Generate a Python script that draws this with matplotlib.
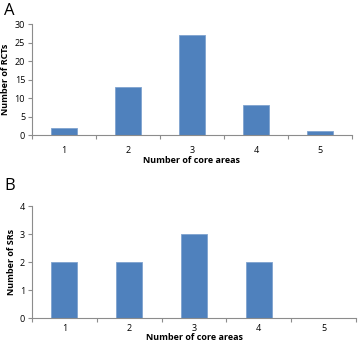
import matplotlib
matplotlib.use('Agg')
import matplotlib.pyplot as plt

plt.rcParams['font.family'] = ['Open Sans', 'DejaVu Sans']

core_areas = [1, 2, 3, 4, 5]
rct_counts = [2, 13, 27, 8, 1]
sr_counts = [2, 2, 3, 2, 0]

bar_color = '#4F81BD'
edge_color = '#7FA3CF'
axis_color = '#8C8C8C'

fig = plt.figure(figsize=(3.58, 3.46), dpi=100)
ax1 = fig.add_axes([0.0894, 0.6098, 0.8936, 0.3208])
ax2 = fig.add_axes([0.0894, 0.0809, 0.905, 0.3237])


def style(ax, counts, ymax, ystep, ylabel, pad, labelpad):
    ax.bar(core_areas, counts, width=0.4, color=bar_color, edgecolor=edge_color, linewidth=0.6)
    ax.set_xlim(0.5, 5.5)
    ax.set_ylim(0, ymax)
    ax.set_yticks(range(0, ymax + 1, ystep))
    ax.set_xticks(core_areas)
    ax.set_xticks([0.5 + i for i in range(6)], minor=True)
    ax.tick_params(axis='x', which='major', length=0, pad=pad, labelsize=6.5)
    ax.tick_params(axis='x', which='minor', length=3, color=axis_color, width=0.8)
    ax.tick_params(axis='y', length=3, color=axis_color, width=0.8, labelsize=6.5, pad=2)
    for s in ['top', 'right']:
        ax.spines[s].set_visible(False)
    for s in ['left', 'bottom']:
        ax.spines[s].set_color(axis_color)
        ax.spines[s].set_linewidth(0.8)
    ax.set_xlabel('Number of core areas', fontsize=6.5, fontweight='bold', labelpad=labelpad)
    ax.set_ylabel(ylabel, fontsize=6.5, fontweight='bold', labelpad=3)


style(ax1, rct_counts, 30, 5, 'Number of RCTs', 8, 0.5)
style(ax2, sr_counts, 4, 1, 'Number of SRs', 4.5, -0.5)

fig.text(0.012, 0.99, 'A', fontsize=12, va='top', ha='left')
fig.text(0.012, 0.485, 'B', fontsize=12, va='top', ha='left')

fig.savefig('out.png', dpi=100)
